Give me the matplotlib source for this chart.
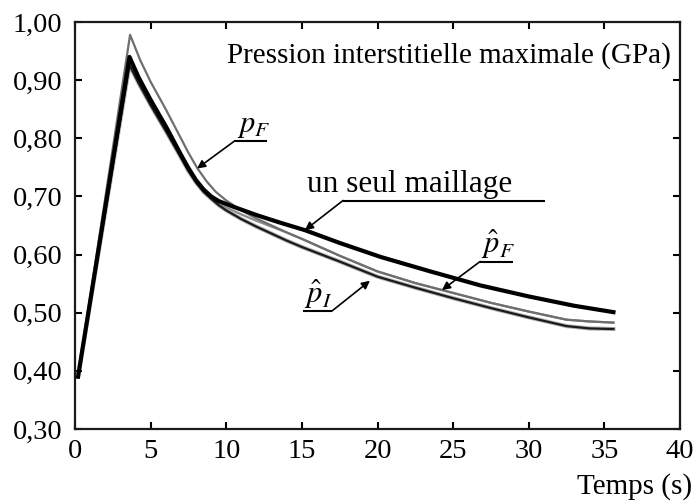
import matplotlib
matplotlib.use("Agg")
import matplotlib.pyplot as plt
from matplotlib.ticker import FuncFormatter

plt.rcParams['font.family'] = ['Liberation Serif', 'DejaVu Serif']
plt.rcParams['mathtext.fontset'] = 'stix'

# data (time in s, pressure in GPa)
t_seul = [0.2, 3.6, 4.2, 5.0, 6.06, 7.0, 7.47, 8.0, 8.5, 9.0, 9.5, 10.0, 10.5, 12.0,
          13.55, 15.2, 17.5, 20.2, 23.5, 26.8, 30.0, 33.0, 35.6]
p_seul = [0.39, 0.94, 0.905, 0.866, 0.818, 0.772, 0.75, 0.728, 0.712, 0.700, 0.692, 0.687, 0.682, 0.668,
          0.655, 0.642, 0.62, 0.596, 0.571, 0.547, 0.528, 0.512, 0.501]

t_pF = [0.2, 3.64, 4.3, 5.0, 6.0, 6.72, 7.5, 8.1, 8.7, 9.3, 10.0, 11.0, 12.0, 13.0, 14.0, 15.0,
        17.5, 20.0, 22.5, 25.0, 27.5, 30.0, 32.5, 34.0, 35.6]
p_pF = [0.39, 0.978, 0.935, 0.897, 0.85, 0.814, 0.775, 0.748, 0.726, 0.708, 0.693, 0.676, 0.662, 0.65, 0.638, 0.627,
        0.598, 0.571, 0.551, 0.534, 0.517, 0.502, 0.488, 0.485, 0.483]

t_pFh = [0.2, 3.6, 4.2, 5.0, 6.06, 7.0, 7.47, 8.0, 8.5, 9.0, 9.5, 10.0, 11.0, 12.0, 13.0, 14.0, 15.0,
         17.5, 20.0, 22.5, 25.0, 27.5, 30.0, 32.5, 34.0, 35.6]
p_pFh = [0.39, 0.928, 0.897, 0.859, 0.812, 0.769, 0.747, 0.727, 0.711, 0.699, 0.689, 0.681, 0.669, 0.658, 0.648, 0.638, 0.627,
         0.598, 0.571, 0.551, 0.534, 0.517, 0.502, 0.488, 0.485, 0.483]

t_pIh = [0.2, 3.6, 4.2, 5.0, 6.06, 7.0, 7.47, 8.0, 8.5, 9.0, 9.5, 10.0, 11.0, 12.0, 13.0, 14.0, 15.0,
         17.5, 20.0, 22.5, 25.0, 27.5, 30.0, 32.5, 34.0, 35.6]
p_pIh = [0.39, 0.926, 0.895, 0.857, 0.81, 0.767, 0.745, 0.724, 0.708, 0.696, 0.685, 0.676, 0.661, 0.648, 0.636, 0.624, 0.613,
         0.588, 0.562, 0.543, 0.525, 0.508, 0.492, 0.477, 0.473, 0.472]

fig = plt.figure(figsize=(6.96, 5.04), dpi=100)
ax = fig.add_axes([0.1078, 0.1488, 0.8692, 0.8075])

ax.plot(t_pIh, p_pIh, color='#b4b4b4', lw=3.0, zorder=2)
ax.plot(t_pFh, p_pFh, color='#8c8c8c', lw=1.6, zorder=3)
ax.plot(t_pF, p_pF, color='#6e6e6e', lw=1.6, zorder=3)
ax.plot(t_pIh, p_pIh, color='#1a1a1a', lw=1.6, zorder=4)
ax.plot(t_seul, p_seul, color='black', lw=3.0, zorder=5)

ax.set_xlim(0, 40)
ax.set_ylim(0.30, 1.00)
ax.set_xticks(range(0, 41, 5))
ax.set_yticks([0.3, 0.4, 0.5, 0.6, 0.7, 0.8, 0.9, 1.0])
ax.yaxis.set_major_formatter(FuncFormatter(lambda v, pos: f"{v:.2f}".replace('.', ',')))
ax.tick_params(direction='in', length=5, width=1.5, labelsize=20.5,
               top=True, right=True)
ax.tick_params(axis='x', pad=7)
ax.tick_params(axis='y', pad=9)
for s in ax.spines.values():
    s.set_linewidth(1.6)
    s.set_color('#1a1a1a')

ax.text(0.985, 0.95, "Pression interstitielle maximale (GPa)", transform=ax.transAxes,
        ha='right', va='top', fontsize=21)
fig.text(0.995, 0.008, "Temps (s)", ha='right', va='bottom', fontsize=21)

arrow = dict(arrowstyle='-|>', color='black', lw=1.2, mutation_scale=12, shrinkA=0, shrinkB=0)

def label(txt, tip, corner, end, tx, size):
    ax.annotate("", xy=tip, xytext=corner, arrowprops=arrow, zorder=6)
    ax.plot([corner[0], end], [corner[1], corner[1]], color='black', lw=1.5,
            solid_capstyle='butt', zorder=6)
    ax.text(tx, corner[1] + 0.014, txt, ha='center', va='baseline', fontsize=size)

label(r"$p_F$", (8.07, 0.748), (10.58, 0.796), 12.67, 11.8, 22)
label("un seul maillage", (15.2, 0.642), (17.72, 0.693), 31.07, 22.15, 22.5)
label(r"$\hat{p}_F$", (24.26, 0.539), (26.78, 0.588), 28.96, 27.95, 22)
label(r"$\hat{p}_I$", (19.5, 0.555), (16.99, 0.503), 15.07, 16.05, 22)

fig.savefig("out.png", dpi=100)
